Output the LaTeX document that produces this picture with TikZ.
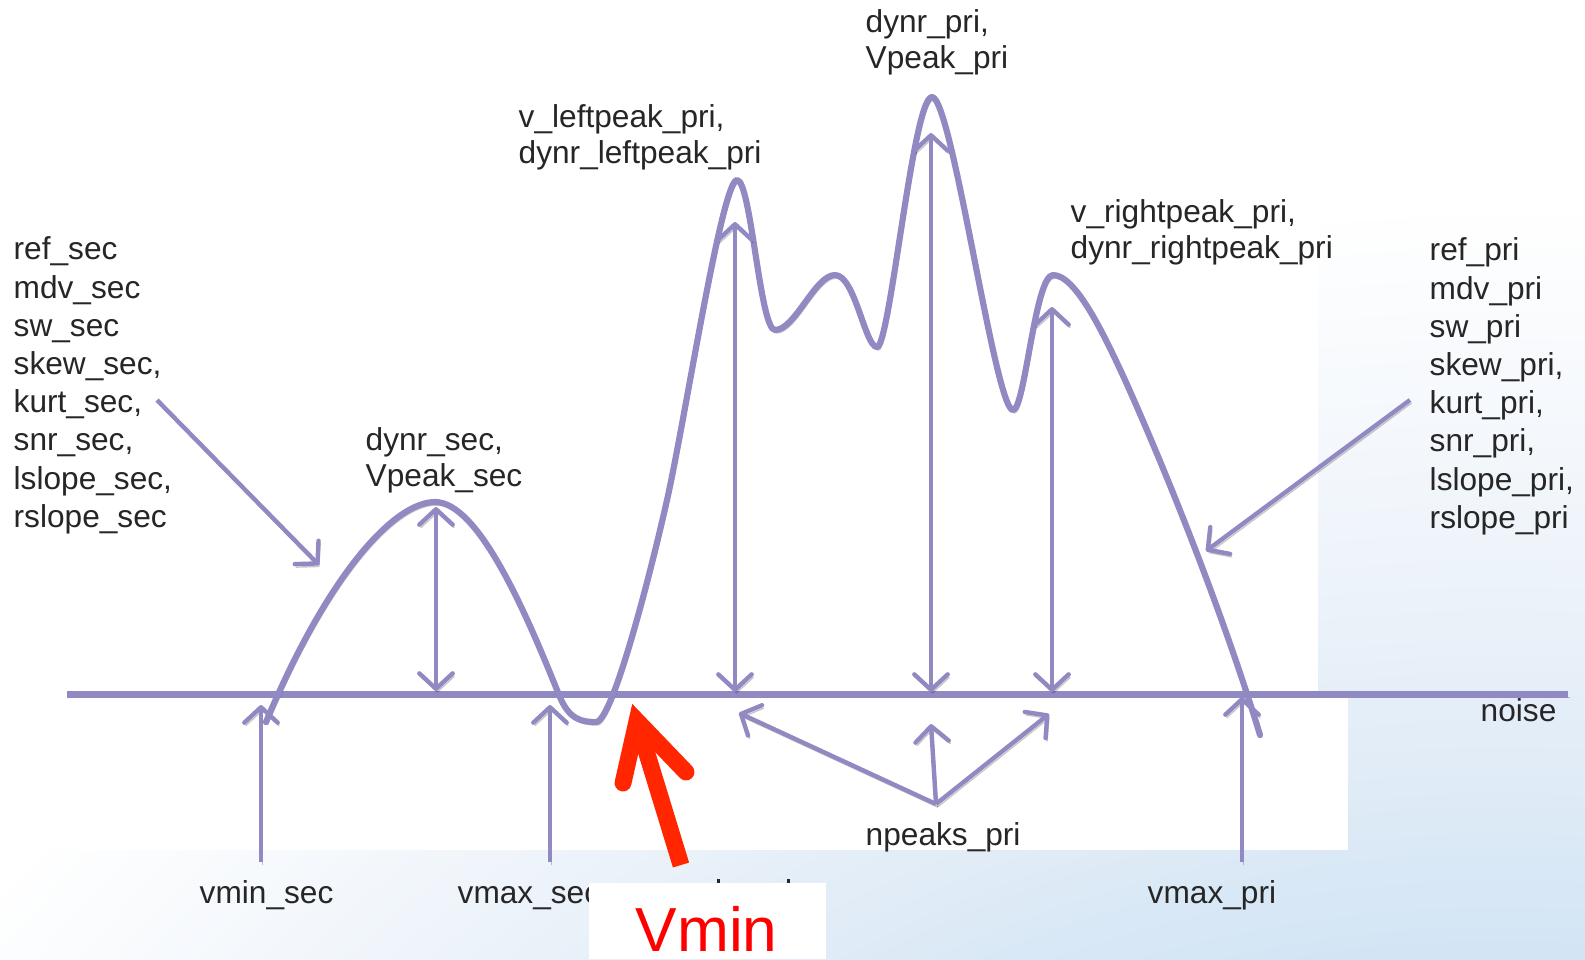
\documentclass[tikz,border=0pt]{standalone}
\usepackage{fontspec}
\setmainfont{Liberation Sans}
\usetikzlibrary{arrows.meta}
\definecolor{purp}{RGB}{144,137,194}
\definecolor{txt}{RGB}{38,38,38}
\definecolor{bgA}{RGB}{200,222,242}
\definecolor{bgB}{RGB}{207,227,244}
\definecolor{bgC}{RGB}{225,236,247}
\definecolor{bgD}{RGB}{240,245,251}
\definecolor{redarrow}{RGB}{255,38,0}
\pgfdeclareradialshading{bgshade}{\pgfpoint{0bp}{0bp}}{color(0bp)=(bgA); color(15bp)=(bgB); color(18bp)=(bgC); color(21bp)=(bgD); color(25bp)=(white); color(50bp)=(white)}
\newcommand{\lh}{\rule{0pt}{8pt}}
\begin{document}
\begin{tikzpicture}[x=0.01cm,y=-0.01cm,
  shadowed/.style={preaction={draw=black,draw opacity=0.22,transform canvas={shift={(1.5,3)}}}},
  curvestyle/.style={draw=purp,line width=1.75pt,line cap=round,line join=round,shadowed},
  arrstyle/.style={draw=purp,line width=1.25pt,shadowed,-{Straight Barb[length=4.4pt,width=9.5pt,round]}},
  dblarr/.style={arrstyle,{Straight Barb[length=4.4pt,width=9.5pt,round]}-{Straight Barb[length=4.4pt,width=9.5pt,round]}},
  lbl/.style={inner sep=0pt,text=txt,font=\fontsize{9}{10.87}\selectfont,align=left,anchor=north west},
  lbltwo/.style={lbl,font=\fontsize{9}{10.24}\selectfont},
  lblone/.style={inner sep=0pt,text=txt,font=\fontsize{9}{10.8}\selectfont,anchor=base west},
  redline/.style={draw=redarrow,line width=4.8pt}
]
\useasboundingbox (0,0) rectangle (1585,959);
% background
\fill[white] (0,0) rectangle (1585,959);
\begin{scope}
\clip (0,0) rectangle (1585,959);
\shade[shading=bgshade] (1500,2200) circle (2000);
\end{scope}
\fill[white] (0,0) rectangle (1318,696);
\fill[white] (0,696) rectangle (1348,850);

% noise line
\coordinate (nL) at (67,694.5);
\coordinate (nR) at (1568,694.5);
\draw[curvestyle,line cap=butt] (nL) -- (nR);

% curve
\coordinate (c0) at (266,722);
\coordinate (secpk) at (435,502);
\coordinate (leftpk) at (737,180);
\coordinate (mainpk) at (932,97);
\coordinate (rightpk) at (1053,275);
\coordinate (cend) at (1260,735);
\draw[curvestyle] (c0) .. controls (329,572) and (395,502) .. (secpk)
 .. controls (478,502) and (525,610) .. (559,695)
 .. controls (569,720) and (582,722) .. (596,722)
 .. controls (612,722) and (649,580) .. (667,500)
 .. controls (685,420) and (722,180) .. (leftpk)
 .. controls (751,180) and (760,330) .. (775,330)
 .. controls (795,330) and (815,275) .. (835,275)
 .. controls (855,275) and (865,347) .. (877,347)
 .. controls (890,347) and (913,97) .. (mainpk)
 .. controls (952,97) and (995,410) .. (1013,410)
 .. controls (1025,410) and (1035,275) .. (rightpk)
 .. controls (1075,275) and (1102,330) .. (1125,380)
 .. controls (1170,480) and (1225,620) .. (cend);

% vertical arrows from below
\coordinate (a1b) at (261,862); \coordinate (a1t) at (261,705);
\coordinate (a2b) at (550,862); \coordinate (a2t) at (550,705);
\coordinate (a8b) at (1242,862); \coordinate (a8t) at (1242,697);
\draw[arrstyle] (a1b) -- (a1t);
\draw[arrstyle] (a2b) -- (a2t);
\draw[arrstyle] (a8b) -- (a8t);

% double arrows (dynamic range)
\coordinate (d1t) at (436,507); \coordinate (d1b) at (436,691);
\coordinate (d2t) at (735,222); \coordinate (d2b) at (735,692);
\coordinate (d3t) at (931,133); \coordinate (d3b) at (931,692);
\coordinate (d4t) at (1052,307); \coordinate (d4b) at (1052,692);
\draw[dblarr] (d1t) -- (d1b);
\draw[dblarr] (d2t) -- (d2b);
\draw[dblarr] (d3t) -- (d3b);
\draw[dblarr] (d4t) -- (d4b);

% npeaks arrows
\coordinate (hub) at (936,804);
\coordinate (np1) at (739,713);
\coordinate (np2) at (931,724);
\coordinate (np3) at (1049,714);
\draw[arrstyle] (hub) -- (np1);
\draw[arrstyle] (hub) -- (np2);
\draw[arrstyle] (hub) -- (np3);

% diagonal arrows
\coordinate (ls) at (157,400); \coordinate (le) at (319,565);
\coordinate (rs) at (1410,400); \coordinate (re) at (1206,551);
\draw[arrstyle] (ls) -- (le);
\draw[arrstyle] (rs) -- (re);

% labels
\node[lbl] (refsec) at (13,231) {\lh ref\_sec\\mdv\_sec\\sw\_sec\\skew\_sec,\\kurt\_sec,\\snr\_sec,\\lslope\_sec,\\rslope\_sec};
\node[lbl] (refpri) at (1429,232) {\lh ref\_pri\\mdv\_pri\\sw\_pri\\skew\_pri,\\kurt\_pri,\\snr\_pri,\\lslope\_pri,\\rslope\_pri};
\node[lbltwo] (dynrpri) at (865,4) {\lh dynr\_pri,\\Vpeak\_pri};
\node[lbltwo] (vleft) at (518,99) {\lh v\_leftpeak\_pri,\\dynr\_leftpeak\_pri};
\node[lbltwo] (vright) at (1070,194) {\lh v\_rightpeak\_pri,\\dynr\_rightpeak\_pri};
\node[lbltwo] (dynrsec) at (365,422) {\lh dynr\_sec,\\Vpeak\_sec};
\node[lblone] (vminsec) at (199,903) {vmin\_sec};
\node[lblone] (vmaxsec) at (457,903) {vmax\_sec};
\node[lblone] (npeaks) at (865,845) {npeaks\_pri};
\node[lblone] (vmaxpri) at (1147,903) {vmax\_pri};
\node[lblone] (noise) at (1480,721) {noise};

% white box over the lower labels
\fill[white] (589,883) rectangle (826,959);
% the two dots that show above it
\fill[txt] (716.5,879) rectangle (720,883);
\fill[txt] (786.5,879) rectangle (790,883);

% red arrow and Vmin
\coordinate (rb) at (681,865);
\coordinate (rt) at (637,721);
\coordinate (rl) at (623,783);
\coordinate (rr) at (686,772);
\draw[redline] (rb) -- (rt);
\draw[redline,line cap=round,line join=miter] (rl) -- (rt) -- (rr);
\node[inner sep=0pt,anchor=base west,text depth=0pt,text=red,font=\fontsize{17.7}{20}\selectfont] (vmin) at (635,951) {Vmin};
\end{tikzpicture}
\end{document}
